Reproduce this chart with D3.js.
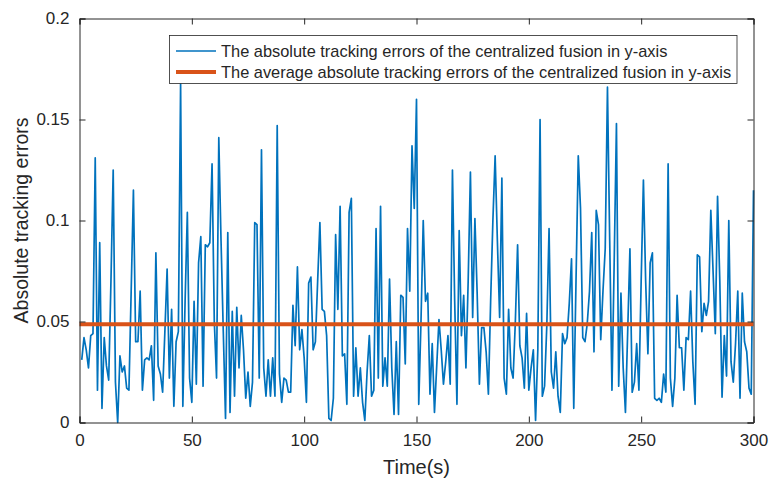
<!DOCTYPE html>
<html><head><meta charset="utf-8">
<script src="https://cdn.jsdelivr.net/npm/d3@7"></script>
<style>body{margin:0;background:#fff}svg{display:block}text{font-family:"Liberation Sans",Arial,Helvetica,sans-serif;fill:#262626}</style>
</head><body>
<script>
const errors = [
0.031,0.042,0.036,0.027,0.043,0.044,0.131,0.016,0.089,0.007,
0.042,0.028,0.021,0.070,0.125,0.020,0.000,0.033,0.025,0.028,
0.017,0.016,0.065,0.115,0.040,0.040,0.065,0.016,0.031,0.032,
0.031,0.038,0.011,0.084,0.028,0.024,0.015,0.045,0.076,0.022,
0.056,0.008,0.040,0.045,0.168,0.008,0.060,0.104,0.022,0.010,
0.060,0.019,0.079,0.092,0.018,0.088,0.087,0.089,0.128,0.050,
0.022,0.141,0.090,0.045,0.002,0.094,0.005,0.055,0.013,0.057,
0.027,0.053,0.036,0.012,0.025,0.008,0.020,0.099,0.098,0.022,
0.135,0.027,0.013,0.031,0.013,0.032,0.013,0.147,0.024,0.010,
0.022,0.021,0.015,0.015,0.058,0.038,0.077,0.036,0.046,0.032,
0.010,0.069,0.072,0.036,0.040,0.070,0.099,0.056,0.055,0.043,
0.002,0.001,0.012,0.093,0.056,0.107,0.033,0.034,0.009,0.104,
0.111,0.013,0.037,0.013,0.027,0.010,0.001,0.025,0.043,0.013,
0.016,0.096,0.022,0.107,0.018,0.032,0.018,0.071,0.027,0.004,
0.040,0.004,0.063,0.062,0.029,0.096,0.065,0.137,0.106,0.160,
0.009,0.050,0.100,0.060,0.064,0.014,0.039,0.005,0.028,0.051,
0.036,0.019,0.030,0.043,0.019,0.125,0.060,0.009,0.095,0.043,
0.063,0.027,0.070,0.124,0.052,0.101,0.064,0.019,0.047,0.047,
0.035,0.014,0.060,0.100,0.132,0.090,0.052,0.121,0.022,0.014,
0.056,0.027,0.022,0.050,0.088,0.038,0.032,0.017,0.054,0.016,
0.027,0.036,0.001,0.036,0.150,0.013,0.018,0.048,0.096,0.025,
0.017,0.035,0.013,0.005,0.044,0.039,0.042,0.059,0.081,0.007,
0.070,0.132,0.106,0.042,0.040,0.049,0.065,0.094,0.035,0.105,
0.098,0.041,0.065,0.086,0.166,0.090,0.016,0.080,0.148,0.018,
0.064,0.027,0.005,0.045,0.086,0.015,0.020,0.039,0.016,0.070,
0.120,0.070,0.034,0.079,0.084,0.012,0.011,0.012,0.010,0.024,
0.015,0.128,0.022,0.008,0.022,0.063,0.037,0.037,0.016,0.042,
0.041,0.065,0.030,0.009,0.083,0.082,0.045,0.059,0.053,0.060,
0.105,0.075,0.044,0.112,0.070,0.0125,0.043,0.023,0.100,0.030,
0.020,0.039,0.065,0.012,0.064,0.040,0.035,0.017,0.014,0.115
];
const times = errors.map((d,i)=>i+1);
const averageError = 0.0487;
const xTicks = [0,50,100,150,200,250,300];
const yTicks = [0,0.05,0.1,0.15,0.2];
const yTickLabels = ["0","0.05","0.1","0.15","0.2"];
const legendLabels = ["The absolute tracking errors of the centralized fusion in y-axis",
                      "The average absolute tracking errors of the centralized fusion in y-axis"];
const xLabel = "Time(s)";
const yLabel = "Absolute tracking errors";

const W=771,H=485;
const L=79.5,R=753.5,T=18.5,B=422.5;
const svg=d3.select("body").append("svg").attr("width",W).attr("height",H);
const x=d3.scaleLinear().domain([0,300]).range([L,R]);
const y=d3.scaleLinear().domain([0,0.2]).range([B,T]);
const axCol="#262626";

svg.append("rect").attr("x",L).attr("y",T).attr("width",R-L).attr("height",B-T).attr("fill","#fff");

// data line
svg.append("path").datum(times.map((t,i)=>[t,errors[i]]))
  .attr("fill","none").attr("stroke","#0072BD").attr("stroke-width",1.7).attr("stroke-linejoin","round")
  .attr("d",d3.line().x(d=>x(d[0])).y(d=>y(d[1])));
// average line
svg.append("line").attr("x1",x(0)).attr("x2",x(300)).attr("y1",y(averageError)).attr("y2",y(averageError))
  .attr("stroke","#D95319").attr("stroke-width",4);

// axes
const tl=6;
const xb=svg.append("g").attr("transform",`translate(0,${B})`).call(d3.axisBottom(x).tickValues(xTicks).tickSize(-tl).tickPadding(11).tickFormat(d3.format("d")));
const xt=svg.append("g").attr("transform",`translate(0,${T})`).call(d3.axisTop(x).tickValues(xTicks).tickSize(-tl).tickFormat(""));
const yl=svg.append("g").attr("transform",`translate(${L},0)`).call(d3.axisLeft(y).tickValues(yTicks).tickSize(-tl).tickPadding(10).tickFormat((d,i)=>yTickLabels[i]));
const yr=svg.append("g").attr("transform",`translate(${R},0)`).call(d3.axisRight(y).tickValues(yTicks).tickSize(-tl).tickFormat(""));
[xb,xt,yl,yr].forEach(g=>{
  g.select(".domain").attr("stroke",axCol).attr("stroke-width",1);
  g.selectAll(".tick line").attr("stroke",axCol).attr("stroke-width",1);
  g.selectAll("text").attr("fill",axCol).style("font-size","17px").style("font-family","'Liberation Sans',Arial,sans-serif");
});
xb.selectAll(".tick text").attr("dy","0.71em");

svg.append("text").attr("x",(L+R)/2).attr("y",474).attr("text-anchor","middle").style("font-size","20px").text(xLabel);
svg.append("text").attr("transform",`translate(28,${(T+B)/2}) rotate(-90)`).attr("text-anchor","middle").style("font-size","19.5px").text(yLabel);

// legend
const lg=svg.append("g");
lg.append("rect").attr("x",169.5).attr("y",35.5).attr("width",567.5).attr("height",48).attr("fill","#fff").attr("stroke","#262626").attr("stroke-width",0.8);
const lc=["#0072BD","#D95319"], lw=[1.7,4], ly=[51,72];
legendLabels.forEach((s,i)=>{
  lg.append("line").attr("x1",176).attr("x2",216).attr("y1",ly[i]).attr("y2",ly[i]).attr("stroke",lc[i]).attr("stroke-width",lw[i]);
  lg.append("text").attr("x",221).attr("y",ly[i]).attr("dy","0.35em").style("font-size","16.4px").text(s);
});
</script>
</body></html>
